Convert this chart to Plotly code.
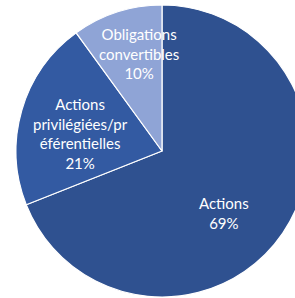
import plotly.graph_objects as go

categories = ["Actions", "Actions privilégiées/préférentielles", "Obligations convertibles"]
label_lines = ["Actions", "Actions<br>privilégiées/pr<br>éférentielles", "Obligations<br>convertibles"]
values = [69, 21, 10]
colors = ["#2F5190", "#335AA2", "#8FA4D6"]

W, H = 310, 298
cx, cy, r = 162, 151, 146

fig = go.Figure(go.Pie(
    labels=categories,
    values=values,
    sort=False,
    direction="clockwise",
    rotation=0,
    marker=dict(colors=colors, line=dict(color="white", width=1.2)),
    textinfo="none",
    hoverinfo="label+percent",
    showlegend=False,
    domain=dict(x=[(cx - r) / W, (cx + r) / W], y=[(H - cy - r) / H, (H - cy + r) / H]),
))

# label anchor points (pixels from top-left)
label_pos = [(224, 213), (80, 133), (139, 54)]
for txt, v, (px, py) in zip(label_lines, values, label_pos):
    fig.add_annotation(
        x=px / W, y=1 - py / H, xref="paper", yref="paper",
        xanchor="center", yanchor="middle",
        text=f"{txt}<br>{v}%", showarrow=False,
        font=dict(family="Lato, Carlito, sans-serif", size=15, color="white"),
        align="center",
    )

fig.update_layout(
    width=W, height=H,
    margin=dict(l=0, r=0, t=0, b=0),
    paper_bgcolor="white", plot_bgcolor="white",
)

fig.write_html(
    "out.html",
    config={"displayModeBar": False},
    post_script="document.body.style.margin='0';document.body.style.overflow='hidden';document.documentElement.style.overflow='hidden';",
)
